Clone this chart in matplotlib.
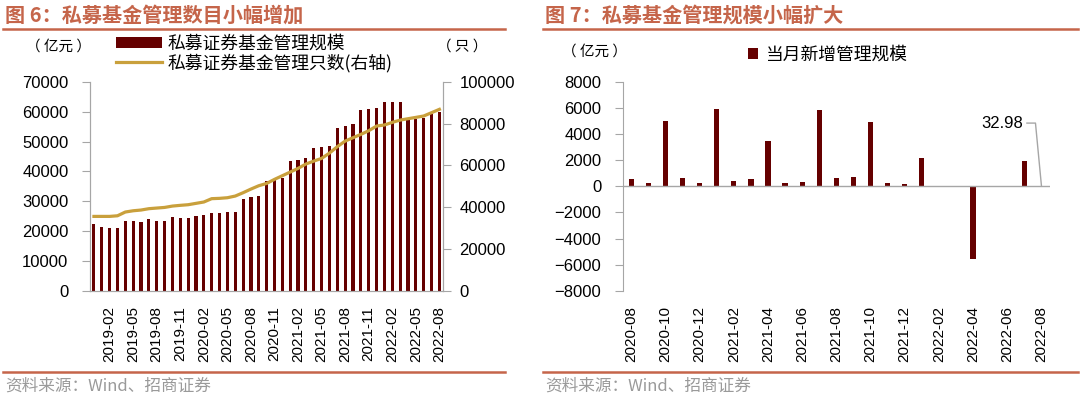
import matplotlib.pyplot as plt
from matplotlib.lines import Line2D
import numpy as np

plt.rcParams['font.family'] = ['Liberation Sans', 'Noto Sans CJK SC', 'DejaVu Sans']
cjk = ['Noto Sans CJK SC', 'DejaVu Sans']

# ---- data: left chart (monthly, 2018-12 .. 2022-08)
months_left = ['2018-12', '2019-01', '2019-02', '2019-03', '2019-04', '2019-05', '2019-06',
               '2019-07', '2019-08', '2019-09', '2019-10', '2019-11', '2019-12', '2020-01',
               '2020-02', '2020-03', '2020-04', '2020-05', '2020-06', '2020-07', '2020-08',
               '2020-09', '2020-10', '2020-11', '2020-12', '2021-01', '2021-02', '2021-03',
               '2021-04', '2021-05', '2021-06', '2021-07', '2021-08', '2021-09', '2021-10',
               '2021-11', '2021-12', '2022-01', '2022-02', '2022-03', '2022-04', '2022-05',
               '2022-06', '2022-07', '2022-08']
scale_yi = [22250, 21240, 21020, 21020, 23370, 23250, 23140, 23930, 23480, 23480,
            24600, 24370, 24370, 25040, 25270, 26050, 26050, 26270, 26380, 30860,
            31420, 31750, 36780, 37120, 37680, 43490, 43940, 44380, 47960, 48190,
            48520, 54450, 55120, 55900, 60710, 61040, 61150, 63390, 63390, 63390,
            57240, 57580, 57800, 59250, 59810]
fund_count = [35600, 35600, 35600, 35900, 37700, 38300, 38650, 39300, 39600, 39900,
              40550, 40900, 41200, 41850, 42500, 44100, 44250, 44550, 45350, 46950,
              48700, 50300, 51400, 53350, 55100, 56850, 58600, 60700, 62100, 63400,
              65950, 69000, 71700, 73300, 74900, 76650, 78900, 79400, 80650, 81750,
              82400, 83050, 83700, 85300, 86900]

# ---- data: right chart (monthly new scale, 2020-08 .. 2022-08)
months_right = ['2020-08', '2020-09', '2020-10', '2020-11', '2020-12', '2021-01', '2021-02',
                '2021-03', '2021-04', '2021-05', '2021-06', '2021-07', '2021-08', '2021-09',
                '2021-10', '2021-11', '2021-12', '2022-01', '2022-02', '2022-03', '2022-04',
                '2022-05', '2022-06', '2022-07', '2022-08']
new_scale = [560, 280, 5010, 640, 230, 5900, 410, 560, 3480, 280, 360, 5880, 660, 720,
             4930, 230, 200, 2200, 0, 0, -5570, 0, 0, 1970, 32.98]

bar_color = '#650000'
line_color = '#C9A03C'
title_color = '#C5654A'
spine_color = '#A6A6A6'

fig = plt.figure(figsize=(10.8, 3.98), dpi=100)
W, H = 1080, 398


def fx(px):
    return px / W


def fy(py):
    return 1 - py / H


# titles, separators and footers
fig.text(fx(5), fy(15), '图 6：私募基金管理数目小幅增加', family=cjk, fontsize=14.5,
         fontweight='bold', color=title_color, va='center', ha='left')
fig.text(fx(545), fy(15), '图 7：私募基金管理规模小幅扩大', family=cjk, fontsize=14.5,
         fontweight='bold', color=title_color, va='center', ha='left')
for x0, x1 in [(3, 505), (543, 1078)]:
    fig.add_artist(Line2D([fx(x0), fx(x1)], [fy(28.5), fy(28.5)], color=title_color, lw=1.8))
    fig.add_artist(Line2D([fx(x0), fx(x1)], [fy(372), fy(372)], color=title_color, lw=1.8))
fig.text(fx(5), fy(386), '资料来源：Wind、招商证券', family=cjk, fontsize=12,
         color='#9A9A9A', va='center', ha='left')
fig.text(fx(545), fy(386), '资料来源：Wind、招商证券', family=cjk, fontsize=12,
         color='#9A9A9A', va='center', ha='left')

# ---- left chart
ax1 = fig.add_axes([fx(90), fy(290.7), fx(443.3) - fx(90), fy(82) - fy(290.7)])
x1 = np.arange(len(months_left))
b1 = ax1.bar(x1, scale_yi, width=0.4, color=bar_color, zorder=2)
ax1.set_xlim(-0.5, len(months_left) - 0.5)
ax1.set_ylim(0, 70000)
ax1.set_yticks(np.arange(0, 70001, 10000))
ax1.set_xticks(x1[2::3])
ax1.set_xticklabels(months_left[2::3], rotation=90)
ax2 = ax1.twinx()
l1, = ax2.plot(x1, fund_count, color=line_color, lw=2.3, zorder=3)
ax2.set_ylim(0, 100000)
ax2.set_yticks(np.arange(0, 100001, 20000))
for ax in (ax1, ax2):
    for s in ax.spines.values():
        s.set_color(spine_color)
    ax.spines['top'].set_visible(False)
ax1.tick_params(axis='y', direction='out', length=5.5, color=spine_color, labelsize=12, pad=10)
ax1.tick_params(axis='x', length=0, labelsize=11, pad=11)
ax2.tick_params(axis='y', direction='out', length=5.5, color=spine_color, labelsize=12, pad=6)

fig.text(fx(58), fy(47), '（ 亿元 ）', family=cjk, fontsize=10.5, ha='center', va='center')
fig.text(fx(462), fy(47), '（ 只 ）', family=cjk, fontsize=10.5, ha='center', va='center')
fig.legend([b1, l1], ['私募证券基金管理规模', '私募证券基金管理只数(右轴)'],
           loc='upper left', bbox_to_anchor=(fx(116), fy(35)), frameon=False,
           prop={'family': cjk, 'size': 12.8}, handlelength=2.6, handleheight=0.55,
           handletextpad=0.3, labelspacing=0.02, borderpad=0, borderaxespad=0)

# ---- right chart
ax3 = fig.add_axes([fx(622.7), fy(290.7), fx(1050) - fx(622.7), fy(82) - fy(290.7)])
x3 = np.arange(len(months_right))
b3 = ax3.bar(x3, new_scale, width=0.31, color=bar_color, zorder=2)
ax3.axhline(0, color=spine_color, lw=1, zorder=3)
ax3.set_xlim(-0.5, len(months_right) - 0.5)
ax3.set_ylim(-8000, 8000)
ax3.set_yticks(np.arange(-8000, 8001, 2000))
ax3.set_xticks(x3[::2])
ax3.set_xticklabels(months_right[::2], rotation=90)
for k in ['top', 'right', 'bottom']:
    ax3.spines[k].set_visible(False)
ax3.spines['left'].set_color(spine_color)
ax3.tick_params(axis='y', direction='out', length=5.5, color=spine_color, labelsize=12, pad=10)
ax3.tick_params(axis='x', length=0, labelsize=11, pad=11)

# label for the last bar with a leader line
last = len(new_scale) - 1
ax3.plot([last - 0.85, last - 0.35, last], [4850, 4850, new_scale[last]],
         color=spine_color, lw=1, zorder=3)
ax3.text(last - 1.1, 4850, f'{new_scale[last]:.2f}', fontsize=12, ha='right', va='center')

fig.text(fx(595), fy(52), '（ 亿元 ）', family=cjk, fontsize=10.5, ha='center', va='center')
fig.legend([b3], ['当月新增管理规模'], loc='center left', bbox_to_anchor=(fx(748), fy(55)),
           frameon=False, prop={'family': cjk, 'size': 12.8}, handlelength=0.55,
           handleheight=0.55, handletextpad=0.45, borderpad=0, borderaxespad=0)

fig.savefig('out.png', dpi=100)
